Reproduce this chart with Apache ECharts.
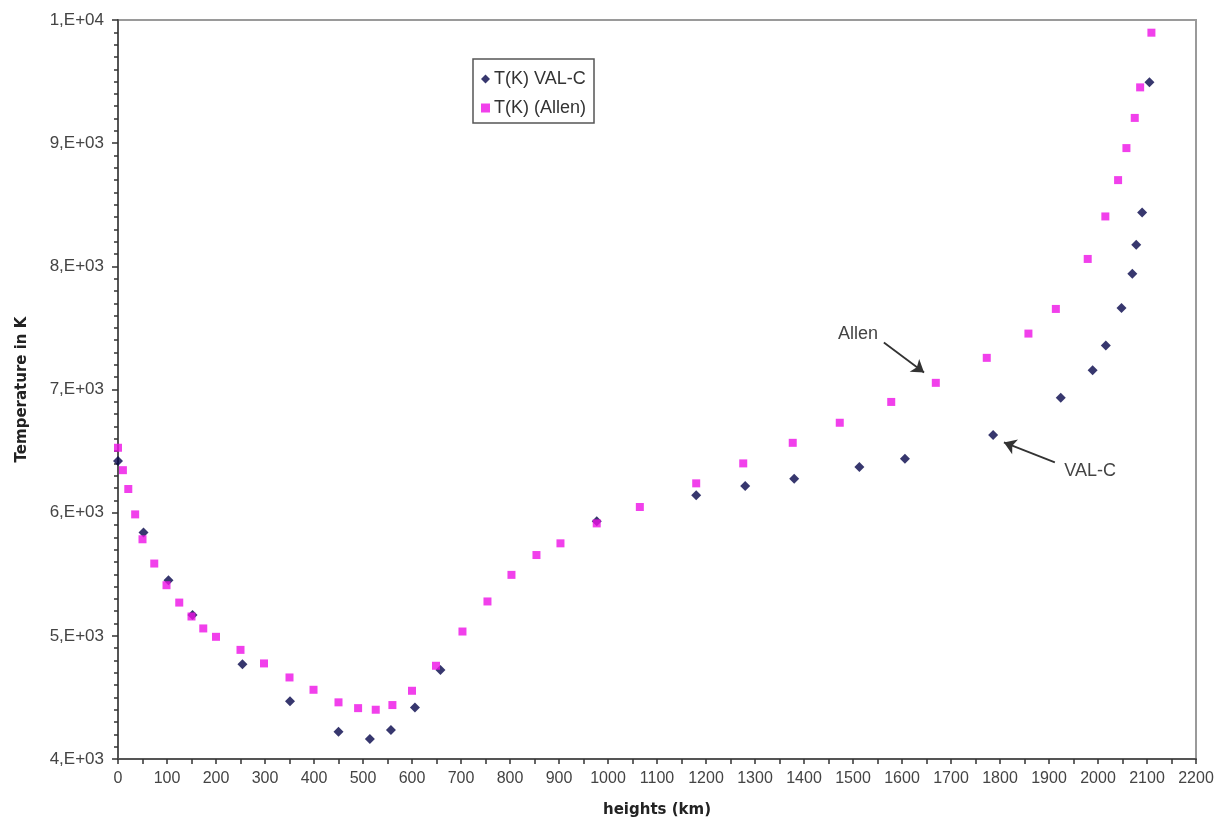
<!DOCTYPE html>
<html>
<head>
<meta charset="utf-8">
<script src="https://cdn.jsdelivr.net/npm/echarts@6/dist/echarts.min.js"></script>
<style>
html,body{margin:0;padding:0;background:#fff;}
#chart{width:1224px;height:823px;}
</style>
</head>
<body>
<div id="chart"></div>
<script>
// ---- data ----
const valcHeights = [0, 52, 103, 152, 254, 351, 450, 514, 557, 606, 658, 977, 1180, 1280, 1380, 1513, 1606, 1786, 1924, 1989, 2016, 2048, 2070, 2078, 2090, 2105];
const valcTemps   = [6419, 5838, 5451, 5170, 4770, 4468, 4222, 4162, 4235, 4419, 4722, 5931, 6141, 6216, 6276, 6370, 6438, 6630, 6933, 7157, 7357, 7662, 7940, 8176, 8438, 9495];

const allenHeights = [0, 10, 21, 35, 50, 74, 99, 125, 150, 174, 200, 250, 298, 350, 399, 450, 490, 526, 560, 600, 649, 703, 754, 803, 854, 903, 977, 1065, 1180, 1276, 1377, 1473, 1578, 1669, 1773, 1858, 1914, 1979, 2015, 2041, 2058, 2075, 2086, 2109];
const allenTemps   = [6527, 6345, 6192, 5986, 5784, 5587, 5411, 5270, 5157, 5060, 4992, 4886, 4776, 4662, 4562, 4460, 4413, 4400, 4438, 4554, 4757, 5035, 5279, 5495, 5656, 5751, 5913, 6046, 6238, 6400, 6567, 6730, 6899, 7054, 7257, 7454, 7654, 8060, 8405, 8700, 8960, 9205, 9453, 9897];

const seriesNames = ['T(K) VAL-C', 'T(K) (Allen)'];
const yTickValues = [4000, 5000, 6000, 7000, 8000, 9000, 10000];
const yTickLabels = ['4,E+03', '5,E+03', '6,E+03', '7,E+03', '8,E+03', '9,E+03', '1,E+04'];

// annotations (data coordinates)
const allenNote = {text: 'Allen', at: [1510, 7454], from: [1563, 7381], to: [1645, 7138]};
const valcNote  = {text: 'VAL-C', at: [1984, 6335], from: [1912, 6408], to: [1808, 6570]};

// ---- chart ----
const zip = (xs, ys) => xs.map((x, i) => [x, ys[i]]);
const chart = echarts.init(document.getElementById('chart'), null, {renderer: 'canvas'});

const noteLine = n => [{coord: n.from}, {coord: n.to}];
const notePoint = n => ({coord: n.at, value: n.text});

const arrowLine = n => ({
  silent: true, symbol: ['none', 'arrow'], symbolSize: 12,
  lineStyle: {color: '#333', width: 1.8, type: 'solid'},
  itemStyle: {color: '#222'},
  label: {show: false},
  emphasis: {disabled: true},
  data: [noteLine(n)]
});
const notePointOpt = n => ({
  silent: true, symbol: 'circle', symbolSize: 0,
  label: {show: true, position: 'inside', fontSize: 18, color: '#444', formatter: p => p.value},
  data: [notePoint(n)]
});

chart.setOption({
  animation: false,
  backgroundColor: '#fff',
  textStyle: {fontFamily: 'Liberation Sans, Arial, sans-serif'},
  grid: {left: 118, right: 28, top: 20, bottom: 63, show: true, borderColor: '#9a9a9a', borderWidth: 2, backgroundColor: '#fff'},
  legend: {
    orient: 'vertical', left: 473, top: 59,
    data: [{name: seriesNames[0], icon: 'diamond'}, {name: seriesNames[1], icon: 'rect'}],
    itemWidth: 9, itemHeight: 9, itemGap: 11,
    padding: [11, 8, 6, 8],
    borderColor: '#555', borderWidth: 1.5,
    textStyle: {fontSize: 18, color: '#333', padding: [0, 0, 0, -1]}
  },
  xAxis: {
    type: 'value', min: 0, max: 2200, interval: 100,
    name: 'heights (km)', nameLocation: 'middle', nameGap: 44,
    nameTextStyle: {fontFamily: 'DejaVu Sans', fontWeight: 'bold', fontSize: 15, color: '#222'},
    axisLine: {show: true, onZero: false, lineStyle: {color: '#555', width: 2}},
    axisTick: {show: true, length: 5, lineStyle: {color: '#333', width: 1.5}},
    minorTick: {show: true, splitNumber: 2, length: 5, lineStyle: {color: '#333', width: 1.5}},
    splitLine: {show: false},
    axisLabel: {fontSize: 16, color: '#444', margin: 12, formatter: v => String(v)}
  },
  yAxis: {
    type: 'value', min: 4000, max: 10000, interval: 1000,
    name: 'Temperature in K', nameLocation: 'middle', nameGap: 88,
    nameTextStyle: {fontFamily: 'DejaVu Sans', fontWeight: 'bold', fontSize: 15, color: '#222'},
    axisLine: {show: true, onZero: false, lineStyle: {color: '#555', width: 2}},
    axisTick: {show: true, length: 6, lineStyle: {color: '#333', width: 1.5}},
    minorTick: {show: true, splitNumber: 10, length: 4, lineStyle: {color: '#333', width: 1.5}},
    splitLine: {show: false},
    axisLabel: {
      fontSize: 17, color: '#444', margin: 14,
      formatter: v => { const i = yTickValues.indexOf(v); return i >= 0 ? yTickLabels[i] : ''; }
    }
  },
  series: [
    {
      name: seriesNames[0], type: 'scatter', symbol: 'diamond', symbolSize: 10,
      itemStyle: {color: '#05054a'},
      data: zip(valcHeights, valcTemps),
      markLine: arrowLine(valcNote),
      markPoint: notePointOpt(valcNote),
      z: 3
    },
    {
      name: seriesNames[1], type: 'scatter', symbol: 'rect', symbolSize: 8,
      itemStyle: {color: '#ee10e6'},
      data: zip(allenHeights, allenTemps),
      markLine: arrowLine(allenNote),
      markPoint: notePointOpt(allenNote),
      z: 4
    }
  ]
});
</script>
</body>
</html>
